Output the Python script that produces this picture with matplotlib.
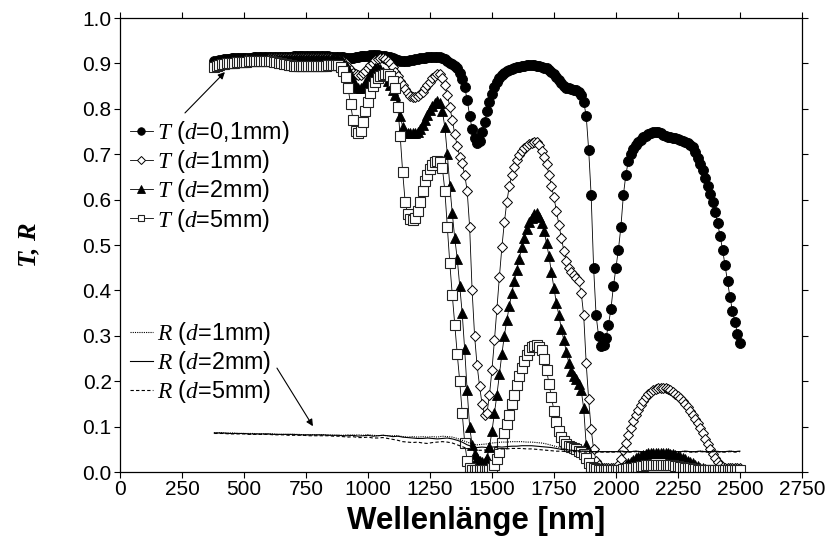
"""Transmission / reflection spectra for four sample thicknesses."""

import matplotlib

matplotlib.use("Agg")
import matplotlib.pyplot as plt
import numpy as np

OUT_PNG = "out.png"

# Wavelength grid of the T curves (nm) and of the R curves (nm).
WL_T = np.arange(380, 2501, 10)
WL_R = np.arange(380, 2501, 20)

# Transmission, one row per 100 nm (starting at 380, 480, ...).
T_D01 = [
    0.905, 0.906, 0.907, 0.908, 0.909, 0.910, 0.910, 0.911, 0.911, 0.912,
    0.912, 0.912, 0.913, 0.913, 0.913, 0.913, 0.914, 0.914, 0.914, 0.914,
    0.914, 0.915, 0.915, 0.915, 0.915, 0.915, 0.915, 0.915, 0.915, 0.915,
    0.915, 0.915, 0.916, 0.916, 0.916, 0.916, 0.916, 0.916, 0.916, 0.916,
    0.916, 0.916, 0.916, 0.916, 0.916, 0.916, 0.916, 0.915, 0.915, 0.915,
    0.915, 0.915, 0.914, 0.913, 0.912, 0.912, 0.913, 0.914, 0.915, 0.916,
    0.916, 0.917, 0.917, 0.918, 0.918, 0.918, 0.918, 0.917, 0.917, 0.916,
    0.915, 0.914, 0.912, 0.910, 0.908, 0.906, 0.905, 0.905, 0.906, 0.907,
    0.908, 0.909, 0.910, 0.911, 0.912, 0.913, 0.914, 0.914, 0.914, 0.914,
    0.914, 0.914, 0.912, 0.910, 0.906, 0.902, 0.898, 0.894, 0.890, 0.878,
    0.865, 0.848, 0.820, 0.785, 0.755, 0.735, 0.725, 0.730, 0.748, 0.770,
    0.795, 0.815, 0.832, 0.848, 0.860, 0.868, 0.874, 0.879, 0.883, 0.886,
    0.888, 0.890, 0.892, 0.893, 0.894, 0.895, 0.896, 0.896, 0.896, 0.896,
    0.895, 0.894, 0.893, 0.891, 0.889, 0.886, 0.882, 0.877, 0.871, 0.864,
    0.857, 0.851, 0.847, 0.845, 0.843, 0.842, 0.841, 0.838, 0.830, 0.815,
    0.785, 0.710, 0.610, 0.450, 0.345, 0.300, 0.278, 0.280, 0.295, 0.325,
    0.360, 0.410, 0.450, 0.490, 0.540, 0.610, 0.655, 0.685, 0.700, 0.712,
    0.720, 0.727, 0.732, 0.737, 0.741, 0.744, 0.747, 0.749, 0.749, 0.748,
    0.746, 0.743, 0.740, 0.738, 0.737, 0.736, 0.735, 0.734, 0.732, 0.730,
    0.727, 0.724, 0.720, 0.716, 0.705, 0.692, 0.678, 0.665, 0.648, 0.630,
    0.612, 0.595, 0.572, 0.548, 0.520, 0.490, 0.455, 0.420, 0.385, 0.355,
    0.330, 0.305, 0.284,
]

T_D1 = [
    0.895, 0.897, 0.899, 0.900, 0.902, 0.903, 0.904, 0.905, 0.906, 0.907,
    0.907, 0.908, 0.908, 0.909, 0.909, 0.909, 0.910, 0.910, 0.910, 0.910,
    0.910, 0.910, 0.911, 0.911, 0.911, 0.911, 0.911, 0.911, 0.911, 0.911,
    0.911, 0.911, 0.911, 0.911, 0.911, 0.911, 0.911, 0.911, 0.911, 0.911,
    0.911, 0.911, 0.911, 0.911, 0.911, 0.911, 0.911, 0.911, 0.910, 0.910,
    0.910, 0.908, 0.905, 0.900, 0.893, 0.886, 0.880, 0.876, 0.874, 0.875,
    0.878, 0.884, 0.890, 0.896, 0.902, 0.907, 0.910, 0.912, 0.912, 0.910,
    0.906, 0.900, 0.892, 0.882, 0.872, 0.862, 0.852, 0.843, 0.835, 0.829,
    0.826, 0.826, 0.828, 0.832, 0.838, 0.845, 0.852, 0.860, 0.867, 0.873,
    0.877, 0.876, 0.868, 0.852, 0.830, 0.805, 0.775, 0.745, 0.718, 0.695,
    0.680, 0.655, 0.620, 0.540, 0.400, 0.300, 0.235, 0.190, 0.150, 0.125,
    0.130, 0.170, 0.225, 0.290, 0.360, 0.430, 0.495, 0.550, 0.595, 0.630,
    0.655, 0.673, 0.687, 0.698, 0.707, 0.713, 0.718, 0.722, 0.725, 0.727,
    0.726, 0.720, 0.708, 0.695, 0.678, 0.655, 0.630, 0.605, 0.575, 0.545,
    0.515, 0.488, 0.465, 0.450, 0.440, 0.433, 0.428, 0.420, 0.395, 0.345,
    0.240, 0.160, 0.095, 0.050, 0.025, 0.015, 0.010, 0.008, 0.008, 0.008,
    0.008, 0.008, 0.010, 0.015, 0.028, 0.048, 0.065, 0.082, 0.098, 0.112,
    0.125, 0.137, 0.148, 0.157, 0.165, 0.171, 0.176, 0.180, 0.183, 0.185,
    0.186, 0.186, 0.185, 0.183, 0.180, 0.177, 0.173, 0.168, 0.163, 0.157,
    0.150, 0.143, 0.135, 0.126, 0.117, 0.108, 0.097, 0.085, 0.073, 0.062,
    0.050, 0.040, 0.030, 0.022, 0.016, 0.012, 0.010, 0.008, 0.008, 0.008,
    0.008, 0.008, 0.008,
]

T_D2 = [
    0.897, 0.899, 0.900, 0.902, 0.903, 0.904, 0.905, 0.906, 0.906, 0.907,
    0.907, 0.908, 0.908, 0.908, 0.909, 0.909, 0.909, 0.909, 0.910, 0.910,
    0.910, 0.910, 0.910, 0.910, 0.910, 0.910, 0.910, 0.910, 0.910, 0.910,
    0.910, 0.910, 0.910, 0.910, 0.910, 0.910, 0.910, 0.910, 0.910, 0.910,
    0.910, 0.910, 0.910, 0.910, 0.910, 0.910, 0.910, 0.910, 0.910, 0.910,
    0.910, 0.908, 0.904, 0.897, 0.887, 0.873, 0.860, 0.850, 0.845, 0.845,
    0.848, 0.856, 0.866, 0.876, 0.884, 0.889, 0.890, 0.888, 0.882, 0.873,
    0.862, 0.852, 0.842, 0.830, 0.812, 0.785, 0.760, 0.750, 0.747, 0.746,
    0.746, 0.746, 0.748, 0.755, 0.765, 0.776, 0.787, 0.798, 0.807, 0.813,
    0.818, 0.812, 0.795, 0.760, 0.700, 0.630, 0.570, 0.515, 0.470, 0.410,
    0.350, 0.270, 0.180, 0.100, 0.060, 0.040, 0.030, 0.025, 0.022, 0.022,
    0.030, 0.055, 0.090, 0.130, 0.170, 0.215, 0.260, 0.300, 0.335, 0.365,
    0.395, 0.420, 0.445, 0.470, 0.495, 0.515, 0.535, 0.550, 0.560, 0.568,
    0.570, 0.562, 0.548, 0.530, 0.505, 0.475, 0.440, 0.405, 0.372, 0.345,
    0.315, 0.290, 0.265, 0.240, 0.222, 0.212, 0.204, 0.195, 0.180, 0.140,
    0.060, 0.020, 0.008, 0.005, 0.005, 0.005, 0.005, 0.005, 0.005, 0.005,
    0.005, 0.005, 0.005, 0.006, 0.008, 0.011, 0.015, 0.019, 0.023, 0.027,
    0.030, 0.033, 0.036, 0.038, 0.040, 0.041, 0.042, 0.043, 0.043, 0.043,
    0.043, 0.043, 0.042, 0.041, 0.040, 0.039, 0.037, 0.035, 0.033, 0.031,
    0.028, 0.025, 0.022, 0.019, 0.016, 0.013, 0.010, 0.008, 0.006, 0.005,
    0.005, 0.005, 0.005, 0.005, 0.005, 0.005, 0.005, 0.005, 0.005, 0.005,
    0.005, 0.005, 0.005,
]

T_D5 = [
    0.893, 0.895, 0.897, 0.898, 0.899, 0.900, 0.901, 0.902, 0.902, 0.903,
    0.903, 0.904, 0.904, 0.904, 0.905, 0.905, 0.905, 0.905, 0.906, 0.906,
    0.906, 0.906, 0.905, 0.905, 0.904, 0.903, 0.902, 0.900, 0.899, 0.898,
    0.897, 0.896, 0.895, 0.895, 0.894, 0.894, 0.894, 0.894, 0.894, 0.894,
    0.894, 0.894, 0.894, 0.894, 0.895, 0.895, 0.896, 0.896, 0.897, 0.897,
    0.897, 0.893, 0.884, 0.870, 0.845, 0.810, 0.775, 0.752, 0.746, 0.752,
    0.770, 0.795, 0.815, 0.835, 0.850, 0.860, 0.868, 0.872, 0.875, 0.877,
    0.877, 0.872, 0.862, 0.845, 0.805, 0.740, 0.660, 0.595, 0.568, 0.558,
    0.555, 0.560, 0.575, 0.595, 0.618, 0.640, 0.655, 0.668, 0.677, 0.683,
    0.686, 0.684, 0.670, 0.620, 0.540, 0.460, 0.390, 0.325, 0.260, 0.200,
    0.130, 0.065, 0.025, 0.010, 0.005, 0.005, 0.005, 0.005, 0.005, 0.005,
    0.005, 0.005, 0.008, 0.015, 0.028, 0.045, 0.065, 0.085, 0.105, 0.125,
    0.150, 0.170, 0.192, 0.212, 0.230, 0.245, 0.258, 0.268, 0.275, 0.278,
    0.279, 0.276, 0.268, 0.250, 0.225, 0.195, 0.165, 0.135, 0.110, 0.090,
    0.078, 0.068, 0.062, 0.058, 0.055, 0.052, 0.050, 0.047, 0.044, 0.040,
    0.030, 0.020, 0.012, 0.008, 0.006, 0.005, 0.005, 0.005, 0.005, 0.005,
    0.005, 0.005, 0.005, 0.005, 0.005, 0.006, 0.007, 0.008, 0.009, 0.010,
    0.011, 0.012, 0.013, 0.014, 0.015, 0.015, 0.016, 0.016, 0.016, 0.016,
    0.016, 0.016, 0.016, 0.016, 0.015, 0.015, 0.014, 0.013, 0.012, 0.011,
    0.010, 0.009, 0.008, 0.007, 0.006, 0.005, 0.005, 0.005, 0.005, 0.005,
    0.005, 0.005, 0.005, 0.005, 0.005, 0.005, 0.005, 0.005, 0.005, 0.005,
    0.005, 0.005, 0.005,
]

# Reflection, one row per 200 nm (starting at 380, 580, ...).
R_D1 = [
    0.087, 0.087, 0.086, 0.086, 0.086, 0.085, 0.085, 0.085, 0.085, 0.084,
    0.084, 0.084, 0.084, 0.083, 0.083, 0.083, 0.083, 0.083, 0.082, 0.082,
    0.082, 0.082, 0.082, 0.082, 0.081, 0.081, 0.081, 0.082, 0.081, 0.082,
    0.081, 0.082, 0.081, 0.080, 0.081, 0.080, 0.080, 0.080, 0.078, 0.077,
    0.078, 0.077, 0.078, 0.077, 0.078, 0.077, 0.079, 0.078, 0.077, 0.074,
    0.070, 0.066, 0.062, 0.060, 0.061, 0.062, 0.064, 0.065, 0.066, 0.066,
    0.067, 0.067, 0.067, 0.066, 0.066, 0.065, 0.064, 0.062, 0.059, 0.056,
    0.053, 0.050, 0.048, 0.047, 0.046, 0.046, 0.045, 0.045, 0.045, 0.045,
    0.045, 0.045, 0.046, 0.045, 0.045, 0.046, 0.045, 0.045, 0.046, 0.045,
    0.045, 0.045, 0.046, 0.045, 0.045, 0.046, 0.045, 0.045, 0.046, 0.045,
    0.045, 0.046, 0.045, 0.045, 0.046, 0.045, 0.046,
]

R_D2 = [
    0.086, 0.086, 0.086, 0.085, 0.085, 0.085, 0.085, 0.084, 0.084, 0.084,
    0.084, 0.084, 0.083, 0.083, 0.083, 0.083, 0.083, 0.082, 0.082, 0.082,
    0.082, 0.082, 0.082, 0.081, 0.081, 0.081, 0.080, 0.080, 0.081, 0.079,
    0.080, 0.081, 0.079, 0.080, 0.081, 0.080, 0.078, 0.079, 0.077, 0.076,
    0.075, 0.074, 0.074, 0.075, 0.074, 0.073, 0.074, 0.075, 0.073, 0.070,
    0.066, 0.060, 0.056, 0.054, 0.055, 0.054, 0.055, 0.056, 0.055, 0.056,
    0.057, 0.057, 0.058, 0.058, 0.058, 0.057, 0.056, 0.055, 0.054, 0.052,
    0.050, 0.049, 0.048, 0.047, 0.046, 0.046, 0.045, 0.045, 0.045, 0.045,
    0.045, 0.045, 0.046, 0.045, 0.045, 0.046, 0.045, 0.045, 0.046, 0.045,
    0.045, 0.045, 0.046, 0.045, 0.045, 0.046, 0.045, 0.045, 0.046, 0.045,
    0.045, 0.046, 0.045, 0.045, 0.046, 0.045, 0.046,
]

R_D5 = [
    0.085, 0.085, 0.085, 0.084, 0.084, 0.084, 0.084, 0.083, 0.083, 0.083,
    0.083, 0.083, 0.082, 0.082, 0.082, 0.081, 0.081, 0.081, 0.081, 0.080,
    0.080, 0.080, 0.080, 0.080, 0.079, 0.079, 0.078, 0.077, 0.078, 0.076,
    0.076, 0.077, 0.075, 0.075, 0.076, 0.074, 0.072, 0.070, 0.067, 0.066,
    0.065, 0.066, 0.064, 0.063, 0.065, 0.066, 0.067, 0.066, 0.064, 0.060,
    0.056, 0.052, 0.049, 0.048, 0.048, 0.049, 0.050, 0.050, 0.051, 0.051,
    0.052, 0.052, 0.052, 0.051, 0.051, 0.050, 0.049, 0.048, 0.047, 0.046,
    0.046, 0.045, 0.045, 0.045, 0.044, 0.044, 0.044, 0.044, 0.044, 0.044,
    0.044, 0.044, 0.045, 0.044, 0.044, 0.045, 0.044, 0.044, 0.045, 0.044,
    0.044, 0.044, 0.045, 0.044, 0.044, 0.045, 0.044, 0.044, 0.045, 0.044,
    0.044, 0.045, 0.044, 0.044, 0.045, 0.044, 0.045,
]

T_LABELS = [
    r"$T$ ($d$=0,1mm)",
    r"$T$ ($d$=1mm)",
    r"$T$ ($d$=2mm)",
    r"$T$ ($d$=5mm)",
]
R_LABELS = [r"$R$ ($d$=1mm)", r"$R$ ($d$=2mm)", r"$R$ ($d$=5mm)"]

X_TICKS = np.arange(0, 2751, 250)
Y_TICKS = np.arange(0.0, 1.01, 0.1)

plt.rcParams.update(
    {
        "font.family": ["Liberation Sans", "DejaVu Sans"],
        "mathtext.fontset": "custom",
        "mathtext.it": "Liberation Serif:italic",
        "mathtext.rm": "Liberation Sans",
        "font.size": 15,
        "axes.linewidth": 0.9,
    }
)


def main() -> None:
    assert all(len(s) == len(WL_T) for s in (T_D01, T_D1, T_D2, T_D5))
    assert all(len(s) == len(WL_R) for s in (R_D1, R_D2, R_D5))

    fig = plt.figure(figsize=(8.31, 5.47), dpi=100)
    ax = fig.add_axes([0.1444, 0.137, 0.8206, 0.830])

    line_kw = dict(color="black", linewidth=0.6)
    t_handles = [
        ax.plot(WL_T, T_D01, marker="o", ms=7.2, mfc="black", mec="black",
                mew=0.6, **line_kw)[0],
        ax.plot(WL_T, T_D1, marker="D", ms=5.0, mfc="white", mec="black",
                mew=0.7, **line_kw)[0],
        ax.plot(WL_T, T_D2, marker="^", ms=7.0, mfc="black", mec="black",
                mew=0.6, **line_kw)[0],
        ax.plot(WL_T, T_D5, marker="s", ms=6.5, mfc="white", mec="#222222",
                mew=0.8, **line_kw)[0],
    ]
    r_handles = [
        ax.plot(WL_R, R_D1, color="black", linewidth=0.8, linestyle=(0, (1, 1)))[0],
        ax.plot(WL_R, R_D2, color="black", linewidth=0.8, linestyle="-")[0],
        ax.plot(WL_R, R_D5, color="black", linewidth=0.8, linestyle=(0, (3, 2)))[0],
    ]

    ax.set_xlim(0, 2750)
    ax.set_ylim(0.0, 1.0)
    ax.set_xticks(X_TICKS)
    ax.set_yticks(Y_TICKS)
    ax.set_yticklabels([f"{v:.1f}" for v in Y_TICKS])
    ax.tick_params(direction="out", length=4, width=0.8, top=True, right=True,
                   labeltop=False, labelright=False, labelsize=15, pad=2)

    ax.set_xlabel("Wellenlänge [nm]", fontsize=22.5, fontweight="bold", labelpad=5)
    ax.xaxis.label.set_x(0.522)
    ax.set_ylabel("T, R", fontsize=19, fontweight="bold", fontstyle="italic",
                  family="Liberation Serif", labelpad=30)

    leg_kw = dict(frameon=False, fontsize=16.8, handlelength=1.0, handletextpad=0.17,
                  borderpad=0, borderaxespad=0, labelspacing=0.09, numpoints=1,
                  markerscale=0.75, loc="upper left", bbox_transform=fig.transFigure)
    leg1 = ax.legend(t_handles, T_LABELS, bbox_to_anchor=(0.156, 0.782), **leg_kw)
    ax.add_artist(leg1)
    ax.legend(r_handles, R_LABELS, bbox_to_anchor=(0.156, 0.415), **leg_kw)

    arrow = dict(arrowstyle="-|>", color="black", lw=0.8, mutation_scale=10,
                 shrinkA=0, shrinkB=0)
    ax.annotate("", xy=(423, 0.881), xytext=(262, 0.791), arrowprops=arrow)
    ax.annotate("", xy=(778, 0.101), xytext=(633, 0.229), arrowprops=arrow)

    fig.savefig(OUT_PNG, dpi=100)
    plt.close(fig)


if __name__ == "__main__":
    main()
